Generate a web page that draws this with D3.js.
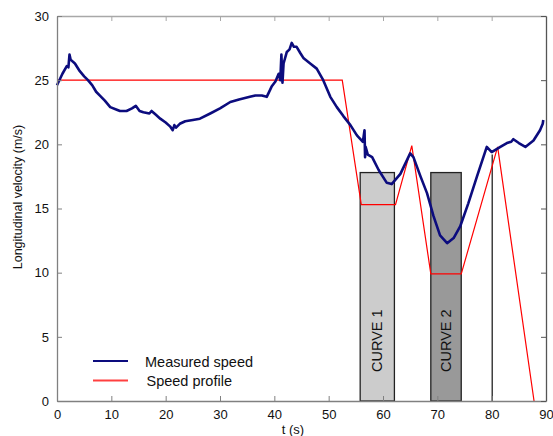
<!DOCTYPE html>
<html>
<head>
<meta charset="utf-8">
<script src="https://cdn.jsdelivr.net/npm/d3@7"></script>
<style>
  body { margin: 0; background: #fff; }
  text { font-family: "Liberation Sans", Arial, sans-serif; }
</style>
</head>
<body>
<svg id="graph" width="553" height="436"></svg>
<script>
// measured speed (t in s, v in m/s)
const measuredT = [0, 1, 1.8, 2.1, 2.3, 2.5, 3.3, 4.2, 5.0, 5.7, 6.5, 7.2, 7.9, 8.8, 9.8, 11, 11.6, 12.8, 13.8, 14.5, 15.2, 15.9,
  17, 17.4, 18.2, 19, 20, 20.8, 21.3, 21.6, 21.9, 22.6, 23.6, 25, 26.3, 28.2, 30, 31.9, 33.5, 35.5, 36.5,
  37.7, 38.6, 39.5, 40.2, 40.8, 41.1, 41.3, 41.5, 41.7, 42.3, 42.8, 43.2, 43.6, 44.1, 44.8, 45.4, 46.6, 47.8,
  49, 50.3, 51.5, 52.7, 54, 55.2, 56.3, 56.6, 56.7, 56.8, 57.2, 58, 59.2, 60.7, 61.6, 63.2, 65, 65.6, 66.9,
  68.1, 69.3, 70.5, 71.8, 73, 74.2, 75.7, 77.3, 79.1, 80, 81.6, 82.8, 83.6, 84, 85, 86.2, 87.7, 88.9, 89.4, 89.5];
const measuredV = [24.6, 25.5, 26.1, 26.0, 27.0, 26.6, 26.3, 25.7, 25.3, 25.0, 24.6, 24.1, 23.8, 23.4, 22.9, 22.7, 22.6, 22.6, 22.8, 23.0, 22.6, 22.5,
  22.4, 22.6, 22.3, 22.0, 21.7, 21.4, 21.1, 21.5, 21.3, 21.6, 21.8, 21.9, 22.0, 22.4, 22.8, 23.3, 23.5, 23.7, 23.8,
  23.8, 23.7, 24.5, 24.9, 25.5, 25.0, 27.0, 24.8, 26.3, 27.2, 27.4, 27.9, 27.6, 27.6, 27.1, 26.7, 26.3, 25.9,
  25.0, 23.7, 22.9, 22.2, 21.5, 20.7, 20.2, 21.1, 19.0, 19.8, 19.2, 19.0, 18.0, 17.0, 16.9, 17.7, 19.3, 19.0, 17.5,
  16.2, 14.4, 12.9, 12.3, 12.7, 13.6, 15.4, 17.5, 19.8, 19.4, 19.8, 20.1, 20.2, 20.4, 20.1, 19.8, 20.3, 21.1, 21.6, 21.9];

// speed profile
const profileT = [0, 52.5, 56, 62.3, 65.3, 68.8, 74.4, 81.1, 87.8];
const profileV = [25, 25, 15.3, 15.3, 19.9, 9.9, 9.9, 19.8, 0];

// curve zones
const curveNames = ["CURVE 1", "CURVE 2"];
const curveStart = [55.8, 68.8];
const curveEnd = [62.1, 74.4];
const curveTop = [17.8, 17.8];
const curveFill = ["#cccccc", "#999999"];

// extra marker line
const markerT = 80.1;
const markerTop = 19.2;

const xTicks = [0, 10, 20, 30, 40, 50, 60, 70, 80, 90];
const yTicks = [0, 5, 10, 15, 20, 25, 30];

const margin = { top: 16, right: 7, bottom: 35, left: 57 };
const width = 553;
const height = 436;
const svg = d3.select("#graph");

const x = d3.scaleLinear().domain([0, 90]).range([margin.left, width - margin.right]);
const y = d3.scaleLinear().domain([0, 30]).range([height - margin.bottom, margin.top]);

const measured = measuredT.map((t, i) => [t, measuredV[i]]);
const profile = profileT.map((t, i) => [t, profileV[i]]);
const curves = curveNames.map((n, i) => ({
  name: n, t0: curveStart[i], t1: curveEnd[i], top: curveTop[i], fill: curveFill[i]
}));

const line = d3.line().x((d) => x(d[0])).y((d) => y(d[1]));

// curve rectangles
const cg = svg.append("g").selectAll("g").data(curves).join("g");
cg.append("rect")
  .attr("x", (d) => x(d.t0))
  .attr("y", (d) => y(d.top))
  .attr("width", (d) => x(d.t1) - x(d.t0))
  .attr("height", (d) => y(0) - y(d.top))
  .attr("fill", (d) => d.fill)
  .attr("stroke", "#222")
  .attr("stroke-width", 1.3);
cg.append("text")
  .attr("transform", (d) => `translate(${x((d.t0 + d.t1) / 2) + 5},${y(4.7)}) rotate(-90)`)
  .attr("text-anchor", "middle")
  .attr("font-size", 14.5)
  .attr("fill", "#111")
  .text((d) => d.name);

svg.append("line")
  .attr("x1", x(markerT)).attr("x2", x(markerT))
  .attr("y1", y(0)).attr("y2", y(markerTop))
  .attr("stroke", "#222")
  .attr("stroke-width", 1.3);

// speed profile
svg.append("path")
  .datum(profile)
  .attr("d", line)
  .attr("fill", "none")
  .attr("stroke", "#ff0000")
  .attr("stroke-width", 1.2);

// measured speed
svg.append("path")
  .datum(measured)
  .attr("d", line)
  .attr("fill", "none")
  .attr("stroke", "#0c0c7e")
  .attr("stroke-width", 2.6)
  .attr("stroke-linejoin", "round");

// axes (inward ticks on all four sides)
const axisStyle = (g, col) => {
  g.select(".domain").attr("stroke", col).attr("stroke-width", 1.3);
  g.selectAll(".tick line").attr("stroke", col);
  g.selectAll(".tick text").attr("fill", "#111").attr("font-size", 13)
    .style("font-family", "Liberation Sans, Arial, sans-serif");
};
svg.append("g")
  .attr("transform", `translate(0,${y(0)})`)
  .call(d3.axisBottom(x).tickValues(xTicks).tickSize(-5).tickSizeOuter(0).tickPadding(8))
  .call((g) => axisStyle(g, "#808080"))
  .call((g) => g.selectAll(".tick text").attr("dy", "0.75em"));
svg.append("g")
  .attr("transform", `translate(0,${y(30)})`)
  .call(d3.axisTop(x).tickValues(xTicks).tickSize(-5).tickSizeOuter(0).tickFormat(""))
  .call((g) => axisStyle(g, "#a8a8a8"));
svg.append("g")
  .attr("transform", `translate(${x(0)},0)`)
  .call(d3.axisLeft(y).tickValues(yTicks).tickSize(-5).tickSizeOuter(0).tickPadding(8))
  .call((g) => axisStyle(g, "#808080"));
svg.append("g")
  .attr("transform", `translate(${x(90)},0)`)
  .call(d3.axisRight(y).tickValues(yTicks).tickSize(-5).tickSizeOuter(0).tickFormat(""))
  .call((g) => axisStyle(g, "#555"));

// axis titles
svg.append("text")
  .attr("x", 293).attr("y", 434)
  .attr("text-anchor", "middle")
  .attr("font-size", 13)
  .attr("fill", "#111")
  .text("t (s)");
svg.append("text")
  .attr("transform", `translate(22,197) rotate(-90)`)
  .attr("text-anchor", "middle")
  .attr("font-size", 12.5)
  .attr("fill", "#111")
  .text("Longitudinal velocity (m/s)");

// legend
const legendNames = ["Measured speed", "Speed profile"];
const legendColors = ["#0c0c7e", "#ff4040"];
const legendWidths = [2.2, 1.8];
const lg = svg.append("g").selectAll("g").data(legendNames).join("g")
  .attr("transform", (d, i) => `translate(93,${361 + i * 19.5})`);
lg.append("line")
  .attr("x1", 0).attr("x2", 35)
  .attr("stroke", (d, i) => legendColors[i])
  .attr("stroke-width", (d, i) => legendWidths[i]);
lg.append("text")
  .attr("x", (d, i) => 52 + i * 1.5)
  .attr("y", 5.5)
  .attr("font-size", 14.5)
  .attr("fill", "#111")
  .text((d) => d);
</script>
</body>
</html>
